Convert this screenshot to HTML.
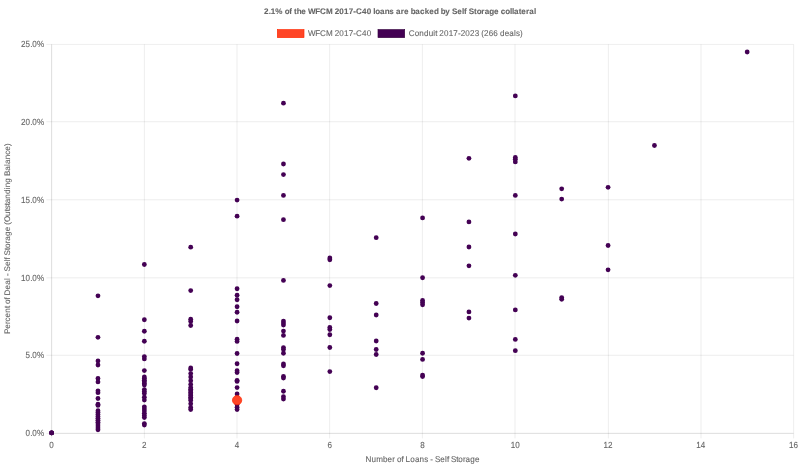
<!DOCTYPE html>
<html><head><meta charset="utf-8"><title>Chart</title>
<style>
html,body{margin:0;padding:0;background:#fff;}
body{width:800px;height:467px;overflow:hidden;font-family:"Liberation Sans",sans-serif;}
svg{display:block;}
svg text{text-rendering:geometricPrecision;font-family:"Liberation Sans",sans-serif;font-size:12.1px;fill:#666;stroke:#666;stroke-width:0.15px;}
svg text.b{font-weight:bold;}
.p{fill:#440154;}
</style></head><body>
<svg width="800" height="467" viewBox="0 0 800 467">
<rect x="0" y="0" width="800" height="467" fill="#fff"/>
<g opacity="0.999">
<g>
<rect x="51" y="44.3" width="1" height="388.81" fill="#000" fill-opacity="0.1203"/>
<rect x="52" y="44.3" width="1" height="388.81" fill="#000" fill-opacity="0.0212"/>
<rect x="51" y="433.11" width="1" height="5.34" fill="#000" fill-opacity="0.0633"/>
<rect x="52" y="433.11" width="1" height="5.34" fill="#000" fill-opacity="0.0112"/>
<rect x="143" y="44.3" width="1" height="394.15" fill="#000" fill-opacity="0.0112"/>
<rect x="144" y="44.3" width="1" height="394.15" fill="#000" fill-opacity="0.0633"/>
<rect x="236" y="44.3" width="1" height="394.15" fill="#000" fill-opacity="0.0405"/>
<rect x="237" y="44.3" width="1" height="394.15" fill="#000" fill-opacity="0.0405"/>
<rect x="329" y="44.3" width="1" height="394.15" fill="#000" fill-opacity="0.0633"/>
<rect x="330" y="44.3" width="1" height="394.15" fill="#000" fill-opacity="0.0112"/>
<rect x="421" y="44.3" width="1" height="394.15" fill="#000" fill-opacity="0.0112"/>
<rect x="422" y="44.3" width="1" height="394.15" fill="#000" fill-opacity="0.0633"/>
<rect x="514" y="44.3" width="1" height="394.15" fill="#000" fill-opacity="0.0405"/>
<rect x="515" y="44.3" width="1" height="394.15" fill="#000" fill-opacity="0.0405"/>
<rect x="607" y="44.3" width="1" height="394.15" fill="#000" fill-opacity="0.0112"/>
<rect x="608" y="44.3" width="1" height="394.15" fill="#000" fill-opacity="0.0633"/>
<rect x="700" y="44.3" width="1" height="394.15" fill="#000" fill-opacity="0.0405"/>
<rect x="701" y="44.3" width="1" height="394.15" fill="#000" fill-opacity="0.0405"/>
<rect x="793" y="44.3" width="1" height="394.15" fill="#000" fill-opacity="0.0633"/>
<rect x="794" y="44.3" width="1" height="394.15" fill="#000" fill-opacity="0.0112"/>
<rect x="51.6" y="432" width="741.95" height="1" fill="#000" fill-opacity="0.0249"/>
<rect x="51.6" y="433" width="741.95" height="1" fill="#000" fill-opacity="0.1185"/>
<rect x="46.27" y="432" width="5.33" height="1" fill="#000" fill-opacity="0.0131"/>
<rect x="46.27" y="433" width="5.33" height="1" fill="#000" fill-opacity="0.0624"/>
<rect x="46.27" y="354" width="747.29" height="1" fill="#000" fill-opacity="0.0177"/>
<rect x="46.27" y="355" width="747.29" height="1" fill="#000" fill-opacity="0.0596"/>
<rect x="46.27" y="275" width="747.29" height="1" fill="#000" fill-opacity="0.0020"/>
<rect x="46.27" y="277" width="747.29" height="1" fill="#000" fill-opacity="0.0517"/>
<rect x="46.27" y="278" width="747.29" height="1" fill="#000" fill-opacity="0.0283"/>
<rect x="46.27" y="197" width="747.29" height="1" fill="#000" fill-opacity="0.0021"/>
<rect x="46.27" y="199" width="747.29" height="1" fill="#000" fill-opacity="0.0557"/>
<rect x="46.27" y="200" width="747.29" height="1" fill="#000" fill-opacity="0.0232"/>
<rect x="46.27" y="119" width="747.29" height="1" fill="#000" fill-opacity="0.0020"/>
<rect x="46.27" y="121" width="747.29" height="1" fill="#000" fill-opacity="0.0592"/>
<rect x="46.27" y="122" width="747.29" height="1" fill="#000" fill-opacity="0.0183"/>
<rect x="46.27" y="43" width="747.29" height="1" fill="#000" fill-opacity="0.0088"/>
<rect x="46.27" y="44" width="747.29" height="1" fill="#000" fill-opacity="0.0645"/>
</g>
<g transform="scale(0.666667,0.667143)">
<text transform="translate(0,670.9) scale(1,1.1)" x="73.9" y="0">0</text>
<text transform="translate(0,670.9) scale(1,1.1)" x="213.02" y="0">2</text>
<text transform="translate(0,670.9) scale(1,1.1)" x="352.13" y="0">4</text>
<text transform="translate(0,670.9) scale(1,1.1)" x="491.25" y="0">6</text>
<text transform="translate(0,670.9) scale(1,1.1)" x="630.36" y="0">8</text>
<text transform="translate(0,670.9) scale(1,1.1)" x="765.98 772.98" y="0">10</text>
<text transform="translate(0,670.9) scale(1,1.1)" x="905.1 912.1" y="0">12</text>
<text transform="translate(0,670.9) scale(1,1.1)" x="1044.21 1051.21" y="0">14</text>
<text transform="translate(0,670.9) scale(1,1.1)" x="1183.33 1190.33" y="0">16</text>
<text transform="translate(0,653.7) scale(1,1.1)" x="38.4 45.4 48.4 55.4" y="0">0.0%</text>
<text transform="translate(0,537.14) scale(1,1.1)" x="38.4 45.4 48.4 55.4" y="0">5.0%</text>
<text transform="translate(0,420.58) scale(1,1.1)" x="31.4 38.4 45.4 48.4 55.4" y="0">10.0%</text>
<text transform="translate(0,304.02) scale(1,1.1)" x="31.4 38.4 45.4 48.4 55.4" y="0">15.0%</text>
<text transform="translate(0,187.46) scale(1,1.1)" x="31.4 38.4 45.4 48.4 55.4" y="0">20.0%</text>
<text transform="translate(0,70.9) scale(1,1.1)" x="31.4 38.4 45.4 48.4 55.4" y="0">25.0%</text>
<text transform="translate(0,692.5) scale(1,1.03)" x="548.37 557.37 564.37 574.37 581.37 588.37 592.37 595.37 602.37 605.37 608.37 615.37 622.37 629.37 636.37 642.37 645.37 649.37 652.37 660.37 667.37 670.37 673.37 676.37 684.37 687.37 694.37 698.37 705.37 712.37" y="0">Number of Loans - Self Storage</text>
<text transform="translate(11.20,357.80) rotate(-90) translate(0,4) scale(1,1.0)" x="-143 -135 -128 -124 -118 -111 -104 -101 -98 -91 -88 -85 -76 -69 -62 -59 -56 -52 -49 -41 -34 -31 -28 -25 -17 -14 -7 -3 4 11 18 21 25 34 41 44 50 53 60 67 74 77 84 91 94 102 109 112 119 126 132 139" y="0">Percent of Deal - Self Storage (Outstanding Balance)</text>
<text transform="translate(0,21.6) scale(1,1.0)" x="396 403 406 413 424 427 434 438 441 445 452 459 462 473 480 489 499 502 509 516 523 530 534 543 550 557 560 563 570 577 584 591 594 601 606 613 616 623 630 637 644 651 658 661 668 675 678 686 693 696 700 703 711 715 722 727 734 741 748 751 758 765 768 771 778 782 789 794 801" y="0" class="b">2.1% of the WFCM 2017-C40 loans are backed by Self Storage collateral</text>
<rect x="416.00" y="44.4" width="40" height="12" fill="#FF4526" stroke="#FF2800" stroke-width="1"/>
<text transform="translate(0,54.4) scale(1,1.03)" x="462 473 480 489 499 502 509 516 523 530 534 543 550" y="0">WFCM 2017-C40</text>
<rect x="567.00" y="44.4" width="40" height="12" fill="#440154" stroke="#36003f" stroke-width="1"/>
<text transform="translate(0,54.4) scale(1,1.03)" x="613 622 629 636 643 650 653 656 659 666 673 680 687 691 698 705 712 719 722 726 733 740 747 750 757 764 771 774 780" y="0">Conduit 2017-2023 (266 deals)</text>
<circle class="p" cx="77.4" cy="648.89" r="3.6"/>
<circle class="p" cx="77.4" cy="648.89" r="3.6"/>
<circle class="p" cx="77.4" cy="648.89" r="3.6"/>
<circle class="p" cx="77.4" cy="648.89" r="3.6"/>
<circle class="p" cx="146.96" cy="443.38" r="3.6"/>
<circle class="p" cx="146.96" cy="505.59" r="3.6"/>
<circle class="p" cx="146.96" cy="541.11" r="3.6"/>
<circle class="p" cx="146.96" cy="547.11" r="3.6"/>
<circle class="p" cx="146.96" cy="567.19" r="3.6"/>
<circle class="p" cx="146.96" cy="572.44" r="3.6"/>
<circle class="p" cx="146.96" cy="585.78" r="3.6"/>
<circle class="p" cx="146.96" cy="588.63" r="3.6"/>
<circle class="p" cx="146.96" cy="597.32" r="3.6"/>
<circle class="p" cx="146.96" cy="605.87" r="3.6"/>
<circle class="p" cx="146.96" cy="607.67" r="3.6"/>
<circle class="p" cx="146.96" cy="615.61" r="3.6"/>
<circle class="p" cx="146.96" cy="618.47" r="3.6"/>
<circle class="p" cx="146.96" cy="621.34" r="3.6"/>
<circle class="p" cx="146.96" cy="624.2" r="3.6"/>
<circle class="p" cx="146.96" cy="627.06" r="3.6"/>
<circle class="p" cx="146.96" cy="629.93" r="3.6"/>
<circle class="p" cx="146.96" cy="632.79" r="3.6"/>
<circle class="p" cx="146.96" cy="635.65" r="3.6"/>
<circle class="p" cx="146.96" cy="638.51" r="3.6"/>
<circle class="p" cx="146.96" cy="641.38" r="3.6"/>
<circle class="p" cx="146.96" cy="644.24" r="3.6"/>
<circle class="p" cx="216.52" cy="396.47" r="3.6"/>
<circle class="p" cx="216.52" cy="479.28" r="3.6"/>
<circle class="p" cx="216.52" cy="496.52" r="3.6"/>
<circle class="p" cx="216.52" cy="511.51" r="3.6"/>
<circle class="p" cx="216.52" cy="534.52" r="3.6"/>
<circle class="p" cx="216.52" cy="537.97" r="3.6"/>
<circle class="p" cx="216.52" cy="555.5" r="3.6"/>
<circle class="p" cx="216.52" cy="565.1" r="3.6"/>
<circle class="p" cx="216.52" cy="567.49" r="3.6"/>
<circle class="p" cx="216.52" cy="569.89" r="3.6"/>
<circle class="p" cx="216.52" cy="572.29" r="3.6"/>
<circle class="p" cx="216.52" cy="574.69" r="3.6"/>
<circle class="p" cx="216.52" cy="577.09" r="3.6"/>
<circle class="p" cx="216.52" cy="583.98" r="3.6"/>
<circle class="p" cx="216.52" cy="586.98" r="3.6"/>
<circle class="p" cx="216.52" cy="589.68" r="3.6"/>
<circle class="p" cx="216.52" cy="595.37" r="3.6"/>
<circle class="p" cx="216.52" cy="599.72" r="3.6"/>
<circle class="p" cx="216.52" cy="609.76" r="3.6"/>
<circle class="p" cx="216.52" cy="613" r="3.6"/>
<circle class="p" cx="216.52" cy="616.24" r="3.6"/>
<circle class="p" cx="216.52" cy="619.48" r="3.6"/>
<circle class="p" cx="216.52" cy="622.72" r="3.6"/>
<circle class="p" cx="216.52" cy="625.95" r="3.6"/>
<circle class="p" cx="216.52" cy="634.95" r="3.6"/>
<circle class="p" cx="216.52" cy="637.19" r="3.6"/>
<circle class="p" cx="286.07" cy="370.54" r="3.6"/>
<circle class="p" cx="286.07" cy="435.59" r="3.6"/>
<circle class="p" cx="286.07" cy="478.53" r="3.6"/>
<circle class="p" cx="286.07" cy="481.91" r="3.6"/>
<circle class="p" cx="286.07" cy="487.9" r="3.6"/>
<circle class="p" cx="286.07" cy="551.61" r="3.6"/>
<circle class="p" cx="286.07" cy="553.7" r="3.6"/>
<circle class="p" cx="286.07" cy="560" r="3.6"/>
<circle class="p" cx="286.07" cy="565.1" r="3.6"/>
<circle class="p" cx="286.07" cy="570.64" r="3.6"/>
<circle class="p" cx="286.07" cy="576.19" r="3.6"/>
<circle class="p" cx="286.07" cy="580.99" r="3.6"/>
<circle class="p" cx="286.07" cy="583.38" r="3.6"/>
<circle class="p" cx="286.07" cy="585.78" r="3.6"/>
<circle class="p" cx="286.07" cy="588.18" r="3.6"/>
<circle class="p" cx="286.07" cy="590.58" r="3.6"/>
<circle class="p" cx="286.07" cy="592.98" r="3.6"/>
<circle class="p" cx="286.07" cy="595.37" r="3.6"/>
<circle class="p" cx="286.07" cy="597.77" r="3.6"/>
<circle class="p" cx="286.07" cy="600.17" r="3.6"/>
<circle class="p" cx="286.07" cy="605.27" r="3.6"/>
<circle class="p" cx="286.07" cy="610.66" r="3.6"/>
<circle class="p" cx="286.07" cy="613.81" r="3.6"/>
<circle class="p" cx="355.63" cy="299.94" r="3.6"/>
<circle class="p" cx="355.63" cy="324.07" r="3.6"/>
<circle class="p" cx="355.63" cy="432.82" r="3.6"/>
<circle class="p" cx="355.63" cy="442.56" r="3.6"/>
<circle class="p" cx="355.63" cy="449.3" r="3.6"/>
<circle class="p" cx="355.63" cy="459.8" r="3.6"/>
<circle class="p" cx="355.63" cy="468.04" r="3.6"/>
<circle class="p" cx="355.63" cy="481.16" r="3.6"/>
<circle class="p" cx="355.63" cy="508.51" r="3.6"/>
<circle class="p" cx="355.63" cy="511.73" r="3.6"/>
<circle class="p" cx="355.63" cy="529.87" r="3.6"/>
<circle class="p" cx="355.63" cy="545.24" r="3.6"/>
<circle class="p" cx="355.63" cy="555.73" r="3.6"/>
<circle class="p" cx="355.63" cy="558.5" r="3.6"/>
<circle class="p" cx="355.63" cy="570.04" r="3.6"/>
<circle class="p" cx="355.63" cy="571.69" r="3.6"/>
<circle class="p" cx="355.63" cy="580.99" r="3.6"/>
<circle class="p" cx="355.63" cy="590.58" r="3.6"/>
<circle class="p" cx="355.63" cy="606.47" r="3.6"/>
<circle class="p" cx="355.63" cy="610.36" r="3.6"/>
<circle class="p" cx="355.63" cy="613.96" r="3.6"/>
<circle class="p" cx="425.19" cy="154.69" r="3.6"/>
<circle class="p" cx="425.19" cy="245.82" r="3.6"/>
<circle class="p" cx="425.19" cy="261.71" r="3.6"/>
<circle class="p" cx="425.19" cy="292.89" r="3.6"/>
<circle class="p" cx="425.19" cy="329.31" r="3.6"/>
<circle class="p" cx="425.19" cy="420.3" r="3.6"/>
<circle class="p" cx="425.19" cy="481.31" r="3.6"/>
<circle class="p" cx="425.19" cy="484.3" r="3.6"/>
<circle class="p" cx="425.19" cy="487.3" r="3.6"/>
<circle class="p" cx="425.19" cy="496.3" r="3.6"/>
<circle class="p" cx="425.19" cy="502.74" r="3.6"/>
<circle class="p" cx="425.19" cy="521.03" r="3.6"/>
<circle class="p" cx="425.19" cy="523.88" r="3.6"/>
<circle class="p" cx="425.19" cy="529.5" r="3.6"/>
<circle class="p" cx="425.19" cy="545.46" r="3.6"/>
<circle class="p" cx="425.19" cy="548.23" r="3.6"/>
<circle class="p" cx="425.19" cy="564.2" r="3.6"/>
<circle class="p" cx="425.19" cy="566.6" r="3.6"/>
<circle class="p" cx="425.19" cy="586.46" r="3.6"/>
<circle class="p" cx="425.19" cy="594.7" r="3.6"/>
<circle class="p" cx="425.19" cy="598.22" r="3.6"/>
<circle class="p" cx="494.75" cy="386.72" r="3.6"/>
<circle class="p" cx="494.75" cy="389.35" r="3.6"/>
<circle class="p" cx="494.75" cy="428.09" r="3.6"/>
<circle class="p" cx="494.75" cy="476.28" r="3.6"/>
<circle class="p" cx="494.75" cy="490.75" r="3.6"/>
<circle class="p" cx="494.75" cy="493.9" r="3.6"/>
<circle class="p" cx="494.75" cy="501.77" r="3.6"/>
<circle class="p" cx="494.75" cy="520.88" r="3.6"/>
<circle class="p" cx="494.75" cy="557" r="3.6"/>
<circle class="p" cx="564.31" cy="356.3" r="3.6"/>
<circle class="p" cx="564.31" cy="454.93" r="3.6"/>
<circle class="p" cx="564.31" cy="472.16" r="3.6"/>
<circle class="p" cx="564.31" cy="511.13" r="3.6"/>
<circle class="p" cx="564.31" cy="523.88" r="3.6"/>
<circle class="p" cx="564.31" cy="531.37" r="3.6"/>
<circle class="p" cx="564.31" cy="581.21" r="3.6"/>
<circle class="p" cx="633.86" cy="326.62" r="3.6"/>
<circle class="p" cx="633.86" cy="416.33" r="3.6"/>
<circle class="p" cx="633.86" cy="450.43" r="3.6"/>
<circle class="p" cx="633.86" cy="453.43" r="3.6"/>
<circle class="p" cx="633.86" cy="456.8" r="3.6"/>
<circle class="p" cx="633.86" cy="529.5" r="3.6"/>
<circle class="p" cx="633.86" cy="538.72" r="3.6"/>
<circle class="p" cx="633.86" cy="562.25" r="3.6"/>
<circle class="p" cx="633.86" cy="564.5" r="3.6"/>
<circle class="p" cx="703.42" cy="237.28" r="3.6"/>
<circle class="p" cx="703.42" cy="332.61" r="3.6"/>
<circle class="p" cx="703.42" cy="370.24" r="3.6"/>
<circle class="p" cx="703.42" cy="398.42" r="3.6"/>
<circle class="p" cx="703.42" cy="467.52" r="3.6"/>
<circle class="p" cx="703.42" cy="476.81" r="3.6"/>
<circle class="p" cx="772.98" cy="143.75" r="3.6"/>
<circle class="p" cx="772.98" cy="235.93" r="3.6"/>
<circle class="p" cx="772.98" cy="238.78" r="3.6"/>
<circle class="p" cx="772.98" cy="242.68" r="3.6"/>
<circle class="p" cx="772.98" cy="292.89" r="3.6"/>
<circle class="p" cx="772.98" cy="350.75" r="3.6"/>
<circle class="p" cx="772.98" cy="412.66" r="3.6"/>
<circle class="p" cx="772.98" cy="464.52" r="3.6"/>
<circle class="p" cx="772.98" cy="508.74" r="3.6"/>
<circle class="p" cx="772.98" cy="525.67" r="3.6"/>
<circle class="p" cx="842.54" cy="283" r="3.6"/>
<circle class="p" cx="842.54" cy="298.44" r="3.6"/>
<circle class="p" cx="842.54" cy="446.08" r="3.6"/>
<circle class="p" cx="842.54" cy="448.63" r="3.6"/>
<circle class="p" cx="912.1" cy="280.75" r="3.6"/>
<circle class="p" cx="912.1" cy="367.99" r="3.6"/>
<circle class="p" cx="912.1" cy="404.41" r="3.6"/>
<circle class="p" cx="981.66" cy="218.09" r="3.6"/>
<circle class="p" cx="1120.77" cy="77.94" r="3.6"/>
<circle cx="355.63" cy="599.87" r="7" fill="#FF4526" stroke="#FF2800" stroke-width="1"/>
</g>
</g>
</svg>
</body></html>
